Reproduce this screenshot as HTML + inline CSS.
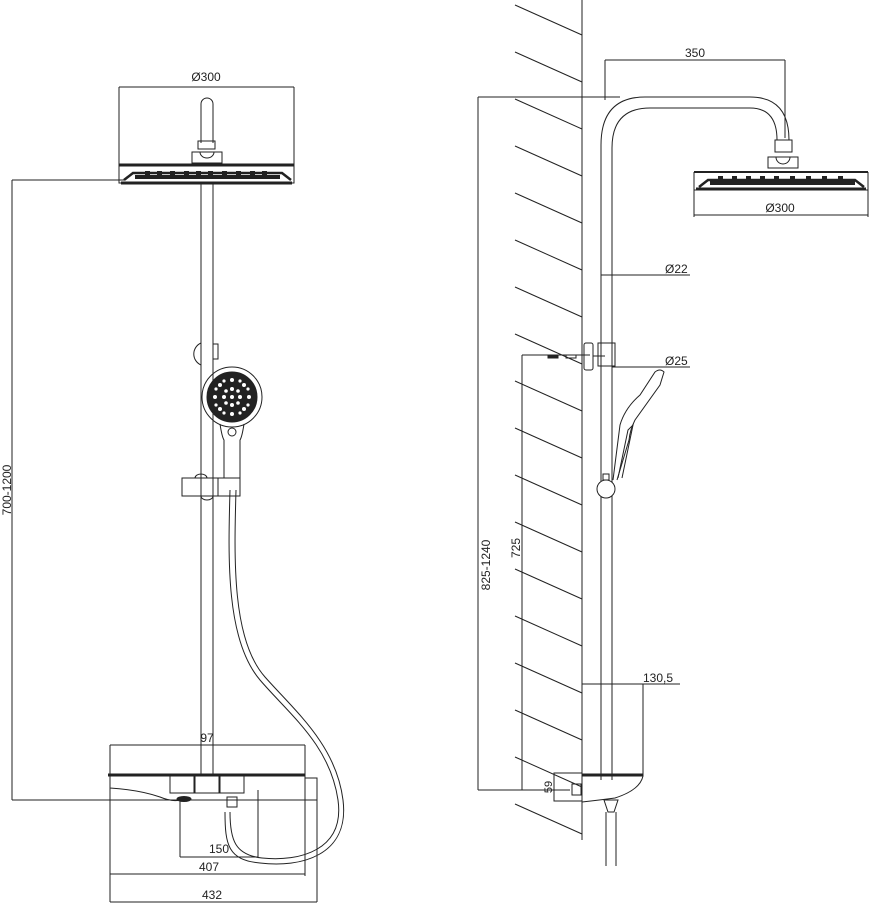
<!DOCTYPE html>
<html><head><meta charset="utf-8"><style>
html,body{margin:0;padding:0;background:#fff;}
svg{display:block;}
text{font-family:"Liberation Sans",sans-serif;font-size:12px;fill:#222;}
</style></head><body>
<svg width="875" height="904" viewBox="0 0 875 904" xmlns="http://www.w3.org/2000/svg">
<g stroke="#222" stroke-width="1" fill="none">
<line x1="119" y1="87" x2="294" y2="87"/>
<line x1="119" y1="87" x2="119" y2="182"/>
<line x1="294" y1="87" x2="294" y2="182"/>
<path d="M201 143 V104 a6 6 0 0 1 12 0 V143"/>
<rect x="198" y="141" width="17" height="8"/>
<rect x="192" y="152" width="30" height="11"/>
<path d="M200 152 a7 6 0 0 0 14 0"/>
<line x1="119" y1="165" x2="294" y2="165" stroke-width="3"/>
<path d="M119 165 V183 H294 V165"/>
<line x1="121" y1="183" x2="292" y2="183" stroke-width="3"/>
<path d="M124 180 L133 173 H282 L291 180" stroke-width="2.5"/>
<g fill="#222" stroke="none">
<rect x="145" y="171" width="5" height="5"/><rect x="157" y="171" width="5" height="5"/><rect x="170" y="171" width="5" height="5"/>
<rect x="184" y="171" width="5" height="5"/><rect x="196" y="171" width="5" height="5"/><rect x="208" y="171" width="5" height="5"/>
<rect x="222" y="171" width="5" height="5"/><rect x="236" y="171" width="5" height="5"/><rect x="250" y="171" width="5" height="5"/><rect x="262" y="171" width="5" height="5"/>
<rect x="135" y="175" width="145" height="4"/>
</g>
<line x1="12" y1="180" x2="124" y2="180"/>
<line x1="12" y1="180" x2="12" y2="800"/>
<line x1="12" y1="800" x2="182" y2="800"/>
<line x1="201" y1="183" x2="201" y2="775"/>
<line x1="213" y1="183" x2="213" y2="775"/>
<path d="M201 343 a12 12 0 0 0 0 22"/>
<rect x="213" y="344" width="5" height="15"/>
<circle cx="232" cy="397" r="30"/>
<circle cx="232" cy="397" r="25" fill="#222"/>
<g fill="#fff" stroke="none">
<circle cx="232" cy="397" r="2"/>
<circle cx="232" cy="389" r="2"/><circle cx="232" cy="405" r="2"/><circle cx="224" cy="397" r="2"/><circle cx="240" cy="397" r="2"/>
<circle cx="226" cy="391" r="1.8"/><circle cx="238" cy="391" r="1.8"/><circle cx="226" cy="403" r="1.8"/><circle cx="238" cy="403" r="1.8"/>
<circle cx="232" cy="380" r="2"/><circle cx="232" cy="414" r="2"/><circle cx="215" cy="397" r="2"/><circle cx="249" cy="397" r="2"/>
<circle cx="220" cy="385" r="2"/><circle cx="244" cy="385" r="2"/><circle cx="220" cy="409" r="2"/><circle cx="244" cy="409" r="2"/>
<circle cx="224" cy="381" r="1.6"/><circle cx="240" cy="381" r="1.6"/><circle cx="224" cy="413" r="1.6"/><circle cx="240" cy="413" r="1.6"/>
<circle cx="216" cy="389" r="1.6"/><circle cx="248" cy="389" r="1.6"/><circle cx="216" cy="405" r="1.6"/><circle cx="248" cy="405" r="1.6"/>
</g>
<path d="M220 424 Q222 437 224 440 V478 M244 424 Q242 437 240 440 V478"/>
<circle cx="232" cy="432" r="4" fill="#fff"/>
<rect x="182" y="478" width="36" height="18"/>
<rect x="218" y="478" width="22" height="18"/>
<path d="M195 478 a6 4 0 0 1 12 0"/>
<path d="M201 496 a6 4 0 0 0 12 0"/>
<path d="M230 490 C228 560 226 640 260 680 C290 715 330 745 338 800 C345 850 300 862 262 858 C235 855 230 840 230 812"/>
<path d="M236 490 C234 560 232 640 265 677 C296 712 336 745 343 800 C350 856 300 868 260 863 C228 860 225 845 225 812"/>
<line x1="108" y1="775" x2="305" y2="775" stroke-width="3"/>
<path d="M110 776 V788 Q140 790 160 797 Q172 802 180 800 M305 776 V800 H175"/>
<rect x="305" y="778" width="12" height="22"/>
<rect x="170" y="776" width="24" height="17"/><rect x="195" y="776" width="24" height="17"/><rect x="220" y="776" width="24" height="17"/>
<ellipse cx="184" cy="799" rx="7" ry="2.5" fill="#222"/>
<rect x="227" y="797" width="10" height="10"/>
<line x1="110" y1="745" x2="305" y2="745"/>
<line x1="110" y1="745" x2="110" y2="902"/>
<line x1="305" y1="745" x2="305" y2="876"/>
<line x1="317" y1="778" x2="317" y2="902"/>
<line x1="180" y1="800" x2="180" y2="857"/>
<line x1="258" y1="790" x2="258" y2="857"/>
<line x1="180" y1="857" x2="258" y2="857"/>
<line x1="110" y1="874" x2="305" y2="874"/>
<line x1="110" y1="902" x2="317" y2="902"/>

<line x1="582" y1="0" x2="582" y2="840"/>
<g>
<line x1="515" y1="5" x2="582" y2="35"/><line x1="515" y1="52" x2="582" y2="82"/><line x1="515" y1="99" x2="582" y2="129"/>
<line x1="515" y1="146" x2="582" y2="176"/><line x1="515" y1="193" x2="582" y2="223"/><line x1="515" y1="240" x2="582" y2="270"/>
<line x1="515" y1="287" x2="582" y2="317"/><line x1="515" y1="334" x2="582" y2="364"/><line x1="515" y1="381" x2="582" y2="411"/>
<line x1="515" y1="428" x2="582" y2="458"/><line x1="515" y1="475" x2="582" y2="505"/><line x1="515" y1="522" x2="582" y2="552"/>
<line x1="515" y1="569" x2="582" y2="599"/><line x1="515" y1="616" x2="582" y2="646"/><line x1="515" y1="663" x2="582" y2="693"/>
<line x1="515" y1="710" x2="582" y2="740"/><line x1="515" y1="757" x2="582" y2="787"/><line x1="515" y1="804" x2="582" y2="834"/>
</g>
<line x1="478" y1="97" x2="620" y2="97"/>
<line x1="478" y1="97" x2="478" y2="790"/>
<line x1="478" y1="790" x2="570" y2="790"/>
<line x1="522" y1="355" x2="522" y2="790"/>
<line x1="522" y1="355" x2="590" y2="355"/>
<rect x="548" y="355" width="10" height="3" fill="#222"/><rect x="566" y="355" width="10" height="3"/>
<path d="M601 780 V145 Q601 97 645 97 H750 Q789 97 789 140"/>
<path d="M612 780 V148 Q612 108 650 108 H750 Q777 108 777 140"/>
<rect x="775" y="140" width="17" height="12"/>
<rect x="768" y="157" width="30" height="11"/>
<path d="M776 157 a7 7 0 0 0 14 0"/>
<line x1="694" y1="172" x2="868" y2="172" stroke-width="2"/>
<path d="M694 172 V190 H868 V172"/>
<line x1="696" y1="189" x2="866" y2="189" stroke-width="3"/>
<path d="M699 187 L708 180 H855 L864 187" stroke-width="2.5"/>
<g fill="#222" stroke="none">
<rect x="718" y="176" width="5" height="5"/><rect x="732" y="176" width="5" height="5"/><rect x="746" y="176" width="5" height="5"/>
<rect x="760" y="176" width="5" height="5"/><rect x="774" y="176" width="5" height="5"/><rect x="790" y="176" width="5" height="5"/>
<rect x="806" y="176" width="5" height="5"/><rect x="822" y="176" width="5" height="5"/><rect x="838" y="176" width="5" height="5"/>
<rect x="710" y="181" width="145" height="4"/>
</g>
<line x1="694" y1="190" x2="694" y2="217"/><line x1="868" y1="190" x2="868" y2="217"/>
<line x1="694" y1="215" x2="868" y2="215"/>
<line x1="605" y1="60" x2="785" y2="60"/>
<line x1="605" y1="60" x2="605" y2="100"/>
<line x1="785" y1="60" x2="785" y2="138"/>
<line x1="601" y1="275" x2="690" y2="275"/>
<rect x="584" y="343" width="9" height="27" rx="2"/>
<rect x="598" y="343" width="17" height="23"/>
<line x1="593" y1="356" x2="605" y2="356"/>
<line x1="612" y1="367" x2="690" y2="367"/>
<path d="M613 480 L620 425 Q625 408 640 395 L655 372 Q660 368 664 372 L660 385 L635 420 Q630 430 629 440 L617 480"/>
<path d="M618 478 L628 430 L633 425 L622 478"/>
<circle cx="606" cy="489" r="9" fill="#fff"/>
<rect x="603" y="474" width="6" height="6"/>
<rect x="582" y="684" width="61" height="92"/>
<line x1="582" y1="684" x2="680" y2="684"/>
<line x1="582" y1="775" x2="643" y2="775" stroke-width="3"/>
<path d="M582 776 V802 Q600 800 615 798 Q640 790 643 776"/>
<rect x="554" y="773" width="28" height="28"/>
<rect x="572" y="784" width="9" height="11"/>
<path d="M604 800 H618 L614 812 H608 Z"/>
<line x1="606" y1="812" x2="606" y2="866"/><line x1="616" y1="812" x2="616" y2="866"/>
</g>
<text x="206" y="81" text-anchor="middle">Ø300</text>
<text x="7" y="490" text-anchor="middle" transform="rotate(-90 7 490)" dy="4">700-1200</text>
<text x="207" y="742" text-anchor="middle">97</text>
<text x="219" y="853" text-anchor="middle">150</text>
<text x="209" y="871" text-anchor="middle">407</text>
<text x="212" y="899" text-anchor="middle">432</text>
<text x="695" y="57" text-anchor="middle">350</text>
<text x="780" y="212" text-anchor="middle">Ø300</text>
<text x="665" y="273">Ø22</text>
<text x="665" y="365">Ø25</text>
<text x="643" y="682">130,5</text>
<text x="486" y="565" text-anchor="middle" transform="rotate(-90 486 565)" dy="4">825-1240</text>
<text x="516" y="548" text-anchor="middle" transform="rotate(-90 516 548)" dy="4">725</text>
<text x="548" y="787" text-anchor="middle" transform="rotate(-90 548 787)" dy="4" style="font-size:11px">59</text>
</svg>
</body></html>
